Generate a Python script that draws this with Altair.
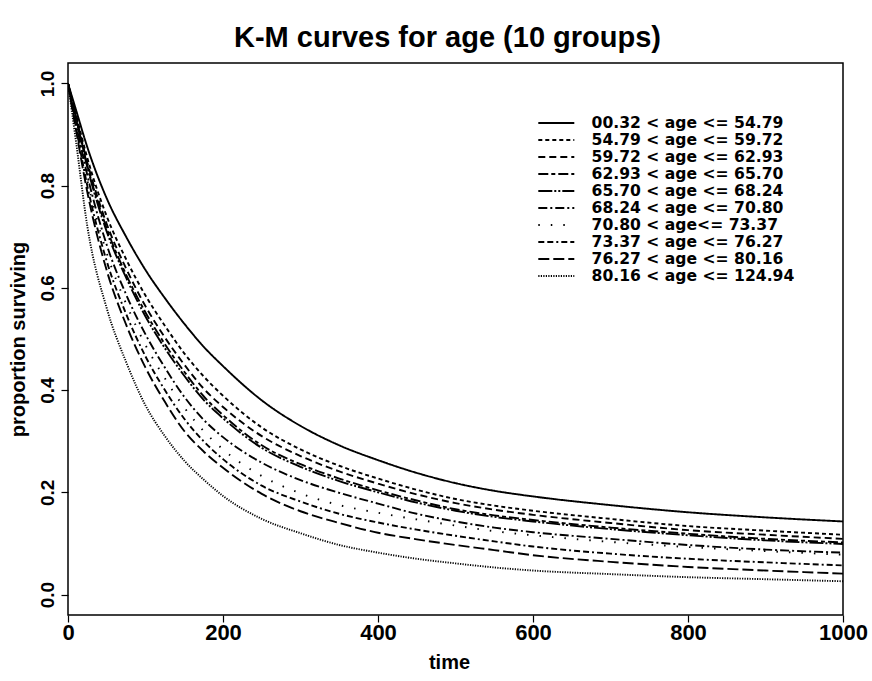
import altair as alt
import pandas as pd

TIMES = [0, 10, 25, 50, 75, 100, 125, 150, 175, 200, 250, 300, 350, 400, 450, 500, 550, 600, 700, 800, 900, 1000]

GROUPS = [
    "00.32 < age <= 54.79",
    "54.79 < age <= 59.72",
    "59.72 < age <= 62.93",
    "62.93 < age <= 65.70",
    "65.70 < age <= 68.24",
    "68.24 < age <= 70.80",
    "70.80 < age<= 73.37",
    "73.37 < age <= 76.27",
    "76.27 < age <= 80.16",
    "80.16 < age <= 124.94",
]

S1 = [1.0, 0.95, 0.875, 0.775, 0.70, 0.635, 0.58, 0.53, 0.485, 0.447, 0.38, 0.33, 0.292, 0.263, 0.238, 0.218, 0.203, 0.192, 0.175, 0.161, 0.151, 0.143]
S2 = [1.0, 0.941, 0.854, 0.740, 0.656, 0.585, 0.526, 0.472, 0.427, 0.389, 0.327, 0.284, 0.252, 0.227, 0.205, 0.187, 0.174, 0.164, 0.148, 0.134, 0.125, 0.117]
S3 = [1.0, 0.937, 0.845, 0.725, 0.638, 0.564, 0.503, 0.450, 0.403, 0.367, 0.310, 0.271, 0.241, 0.217, 0.196, 0.179, 0.166, 0.156, 0.140, 0.126, 0.117, 0.109]
S4 = [1.0, 0.935, 0.839, 0.716, 0.626, 0.552, 0.490, 0.436, 0.388, 0.351, 0.292, 0.255, 0.227, 0.204, 0.184, 0.167, 0.155, 0.146, 0.131, 0.119, 0.109, 0.102]
S5 = [1.0, 0.934, 0.836, 0.710, 0.620, 0.544, 0.482, 0.428, 0.381, 0.345, 0.287, 0.250, 0.222, 0.200, 0.180, 0.164, 0.152, 0.143, 0.128, 0.116, 0.106, 0.099]
S6 = [1.0, 0.926, 0.820, 0.684, 0.587, 0.509, 0.444, 0.387, 0.342, 0.308, 0.258, 0.224, 0.199, 0.178, 0.158, 0.143, 0.131, 0.122, 0.109, 0.097, 0.088, 0.082]
S7 = [1.0, 0.922, 0.810, 0.668, 0.569, 0.488, 0.423, 0.366, 0.320, 0.284, 0.232, 0.198, 0.175, 0.160, 0.147, 0.135, 0.124, 0.116, 0.103, 0.093, 0.085, 0.078]
S8 = [1.0, 0.917, 0.799, 0.652, 0.549, 0.466, 0.400, 0.344, 0.300, 0.265, 0.213, 0.182, 0.158, 0.141, 0.127, 0.115, 0.104, 0.094, 0.080, 0.070, 0.063, 0.057]
S9 = [1.0, 0.912, 0.787, 0.634, 0.528, 0.444, 0.377, 0.320, 0.280, 0.248, 0.197, 0.163, 0.140, 0.121, 0.108, 0.097, 0.087, 0.077, 0.064, 0.054, 0.047, 0.041]
S10 = [1.0, 0.890, 0.720, 0.560, 0.455, 0.370, 0.310, 0.262, 0.225, 0.193, 0.148, 0.120, 0.097, 0.082, 0.070, 0.061, 0.053, 0.047, 0.040, 0.034, 0.030, 0.026]

SERIES = [S1, S2, S3, S4, S5, S6, S7, S8, S9, S10]

X_TICKS = [0, 200, 400, 600, 800, 1000]
Y_TICKS = [0.0, 0.2, 0.4, 0.6, 0.8, 1.0]

# line styles (R lty look-alikes)
DASHES = [
    [1, 0],
    [4, 3],
    [7, 4],
    [10, 3, 4, 3],
    [14, 2, 2, 2, 2, 2],
    [9, 3, 2, 3],
    [1.5, 11],
    [6, 3, 6, 3, 2, 3],
    [11, 4],
    [1.2, 1.3],
]

rows = []
for g, vals in zip(GROUPS, SERIES):
    for t, v in zip(TIMES, vals):
        rows.append({"time": t, "surv": v, "group": g})
df = pd.DataFrame(rows)

FONT = "Liberation Sans"
LEGEND_FONT = "DejaVu Sans"

chart = alt.Chart(df).mark_line(
    color="black", strokeWidth=1.9, interpolate="monotone", clip=True
).encode(
    x=alt.X(
        "time:Q",
        scale=alt.Scale(domain=[0, 1000], nice=False, zero=False),
        axis=alt.Axis(
            values=X_TICKS, title="time", format="d",
            labelFontSize=22, labelPadding=0, labelBaseline="top",
            labelFlush=False, labelOverlap=False,
            titleX=381, titleY=53, titleBaseline="alphabetic", titleAlign="center",
            titleFontSize=20,
        ),
    ),
    y=alt.Y(
        "surv:Q",
        scale=alt.Scale(domain=[-0.04, 1.04], nice=False, zero=False),
        axis=alt.Axis(
            values=Y_TICKS, format=".1f", title="proportion surviving",
            labelFontSize=19, labelAngle=270, labelAlign="center",
            labelBaseline="alphabetic", labelPadding=8,
            labelFlush=False, labelOverlap=False,
            titleAngle=270, titleX=-50, titleY=276, titleAlign="center",
            titleBaseline="middle", titleFontSize=20,
        ),
    ),
    strokeDash=alt.StrokeDash(
        "group:N",
        scale=alt.Scale(domain=GROUPS, range=DASHES),
        legend=alt.Legend(
            title=None, orient="none", direction="vertical",
            legendX=480.5, legendY=52.2, padding=0,
            symbolType="M-3.6,0H3.6", symbolSize=100,
            symbolStrokeWidth=1.9, symbolStrokeColor="black",
            labelFont=LEGEND_FONT, labelFontSize=15.6, labelFontWeight="bold",
            labelColor="black", labelOffset=27.5, labelLimit=400,
            rowPadding=0,
        ),
    ),
).properties(
    width=775,
    height=552,
    padding={"left": 68, "top": 63, "right": 29, "bottom": 66},
    autosize="none",
    title=alt.TitleParams(
        "K-M curves for age (10 groups)", font=FONT, fontSize=29,
        fontWeight="bold", color="black", anchor="middle", offset=10, dx=-8,
    ),
).configure(
    background="white",
).configure_view(
    stroke="black", strokeWidth=1.5,
).configure_axis(
    domain=False, grid=False, ticks=True, tickColor="black", tickSize=7,
    tickWidth=1.2, labelFont=FONT, labelFontWeight="bold", labelColor="black",
    titleFont=FONT, titleFontWeight="bold", titleColor="black",
)

chart.save("out.html", embed_options={"renderer": "svg", "actions": False})
